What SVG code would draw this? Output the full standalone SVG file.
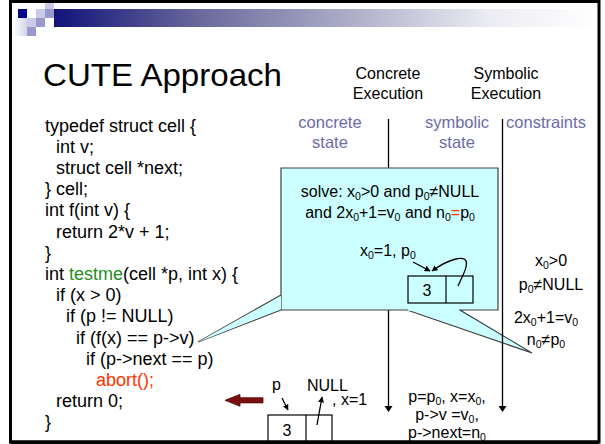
<svg xmlns="http://www.w3.org/2000/svg" width="605" height="444" viewBox="0 0 605 444">
<defs>
<linearGradient id="band" x1="54" y1="0" x2="598" y2="0" gradientUnits="userSpaceOnUse">
<stop offset="0" stop-color="#12127a"/>
<stop offset="0.27" stop-color="#6a6a9c"/>
<stop offset="0.8" stop-color="#ececf3"/>
<stop offset="1" stop-color="#ffffff"/>
</linearGradient>
<linearGradient id="fade" x1="0" y1="0" x2="1" y2="0">
<stop offset="0" stop-color="#ffffff"/>
<stop offset="1" stop-color="#d4d4ea"/>
</linearGradient>
<marker id="ahs" viewBox="0 0 10 10" refX="9" refY="5" markerWidth="6" markerHeight="6" orient="auto" markerUnits="userSpaceOnUse">
<path d="M0,0 L10,5 L0,10 z" fill="#000"/>
</marker>
</defs>
<style>
text{font-family:"Liberation Sans",Arial,sans-serif;fill:#000}
.code{font-size:18px}
.hdr{font-size:16px;text-anchor:middle}
.pur{font-size:16.5px;text-anchor:middle;fill:#6b6bab}
.t16{font-size:16px}
.mid{text-anchor:middle}
.sub{font-size:10.5px}
.red{fill:#ff3300}
.green{fill:#1f8f1f}
.line{stroke:#000;stroke-width:1.3;fill:none}
.cell{fill:none;stroke:#000;stroke-width:1.2}
</style>
<rect width="605" height="444" fill="#fff"/>
<g id="decor">
<rect x="54" y="9" width="544" height="18" fill="url(#band)"/>
<rect x="13" y="18" width="14" height="18" fill="url(#fade)"/>
<rect x="18" y="9" width="9" height="9" fill="#00008b"/>
<rect x="45" y="0" width="9" height="9" fill="#ccccea"/>
<rect x="36" y="9" width="9" height="9" fill="#ccccea"/>
<rect x="45" y="9" width="9" height="9" fill="#9999cc"/>
<rect x="36" y="18" width="9" height="9" fill="#9999cc"/>
<rect x="27" y="18" width="9" height="9" fill="#ccccea"/>
<rect x="27" y="27" width="9" height="9" fill="#9999cc"/>
</g>
<rect x="10.5" y="1.5" width="588.5" height="440.5" fill="none" stroke="#000" stroke-width="3"/>
<text id="title" x="43" y="86" font-size="32" textLength="239" lengthAdjust="spacingAndGlyphs">CUTE Approach</text>
<g id="code" class="code">
<text x="45" y="131.5">typedef struct cell {</text>
<text x="56" y="152.7">int v;</text>
<text x="56" y="173.9">struct cell *next;</text>
<text x="45" y="195.1">} cell;</text>
<text x="45" y="216.3">int f(int v) {</text>
<text x="56" y="237.5">return 2*v + 1;</text>
<text x="45" y="258.7">}</text>
<text x="45" y="279.9">int <tspan class="green">testme</tspan>(cell *p, int x) {</text>
<text x="56" y="301.1">if (x &gt; 0)</text>
<text x="66" y="322.3">if (p != NULL)</text>
<text x="76" y="343.5">if (f(x) == p-&gt;v)</text>
<text x="86" y="364.7">if (p-&gt;next == p)</text>
<text x="96" y="385.9" class="red">abort();</text>
<text x="56" y="407.1">return 0;</text>
<text x="45" y="428.3">}</text>
</g>
<g id="headers">
<text class="hdr" x="388" y="79">Concrete</text>
<text class="hdr" x="388" y="99">Execution</text>
<text class="hdr" x="506" y="79">Symbolic</text>
<text class="hdr" x="506" y="99">Execution</text>
<text class="pur" x="330" y="127.5">concrete</text>
<text class="pur" x="330" y="147.5">state</text>
<text class="pur" x="457" y="127.5">symbolic</text>
<text class="pur" x="457" y="147.5">state</text>
<text class="pur" x="546" y="127.5">constraints</text>
</g>
<g id="connectors">
<line class="line" x1="388.5" y1="119" x2="388.5" y2="407"/>
<polygon points="384.5,406 392.5,406 388.5,412" fill="#000"/>
</g>
<g id="callout">
<path d="M281,168 H498 V310 H460 L532,353 L407,310 H281 Z M281,295 L198,342 L281,310" fill="#ccffff" stroke="#404040" stroke-width="1.2" stroke-linejoin="miter"/>
<polygon points="281,296 198,342 281,309" fill="#ccffff"/>
<line x1="408" y1="310" x2="459" y2="310" stroke="#ccffff" stroke-width="1.4"/>
<text class="t16 mid" x="390" y="197">solve: x<tspan class="sub" dy="3">0</tspan><tspan dy="-3">&gt;0 and p</tspan><tspan class="sub" dy="3">0</tspan><tspan dy="-3">≠NULL</tspan></text>
<text class="t16 mid" x="390" y="218">and 2x<tspan class="sub" dy="3">0</tspan><tspan dy="-3">+1=v</tspan><tspan class="sub" dy="3">0</tspan><tspan dy="-3"> and n</tspan><tspan class="sub" dy="3">0</tspan><tspan dy="-3" class="red">=</tspan>p<tspan class="sub" dy="3">0</tspan></text>
<text class="t16" x="360" y="256">x<tspan class="sub" dy="3">0</tspan><tspan dy="-3">=1, p</tspan><tspan class="sub" dy="3">0</tspan></text>
<rect class="cell" x="408" y="276" width="65" height="27"/>
<line class="cell" x1="446" y1="276" x2="446" y2="303"/>
<text class="t16 mid" x="427" y="296">3</text>
<path d="M413,262 L430,271" class="line" marker-end="url(#ahs)"/>
<path d="M458,286 C463,275 468,266 466,261 C464,256 450,258 432,271" class="line" marker-end="url(#ahs)"/>
</g>
<g id="symline">
<line class="line" x1="502.5" y1="119" x2="502.5" y2="407"/>
<polygon points="498.5,406 506.5,406 502.5,412" fill="#000"/>
</g>
<g id="constraints" class="t16">
<text class="mid" x="551" y="266">x<tspan class="sub" dy="3">0</tspan><tspan dy="-3">&gt;0</tspan></text>
<text class="mid" x="551" y="290">p<tspan class="sub" dy="3">0</tspan><tspan dy="-3">≠NULL</tspan></text>
<text class="mid" x="546" y="323">2x<tspan class="sub" dy="3">0</tspan><tspan dy="-3">+1=v</tspan><tspan class="sub" dy="3">0</tspan></text>
<text class="mid" x="546" y="345">n<tspan class="sub" dy="3">0</tspan><tspan dy="-3">≠p</tspan><tspan class="sub" dy="3">0</tspan></text>
</g>
<g id="symstate" class="t16">
<text class="mid" x="447" y="402">p=p<tspan class="sub" dy="3">0</tspan><tspan dy="-3">, x=x</tspan><tspan class="sub" dy="3">0</tspan><tspan dy="-3">,</tspan></text>
<text class="mid" x="447" y="420">p-&gt;v =v<tspan class="sub" dy="3">0</tspan><tspan dy="-3">,</tspan></text>
<text class="mid" x="447" y="438">p-&gt;next=n<tspan class="sub" dy="3">0</tspan></text>
</g>
<g id="concstate" class="t16">
<text x="272" y="390">p</text>
<text x="307" y="391">NULL</text>
<text x="332" y="405">, x=1</text>
<path d="M282,398 L288,410" class="line" stroke-width="1.2" marker-end="url(#ahs)"/>
<path d="M317,425 L322,397" class="line" stroke-width="1.2" marker-end="url(#ahs)"/>
<rect class="cell" x="268" y="415" width="64" height="30"/>
<line class="cell" x1="306" y1="415" x2="306" y2="442"/>
<text class="mid" x="287" y="436">3</text>
</g>
<g id="backarrow">
<polygon points="225,400.3 240,394.3 240,397.7 263,397.7 263,402.9 240,402.9 240,406.3" fill="#7b1010" stroke="#5a0808" stroke-width="0.8"/>
</g>
<rect x="10.5" y="440.5" width="588.5" height="3.5" fill="#000"/>
</svg>
